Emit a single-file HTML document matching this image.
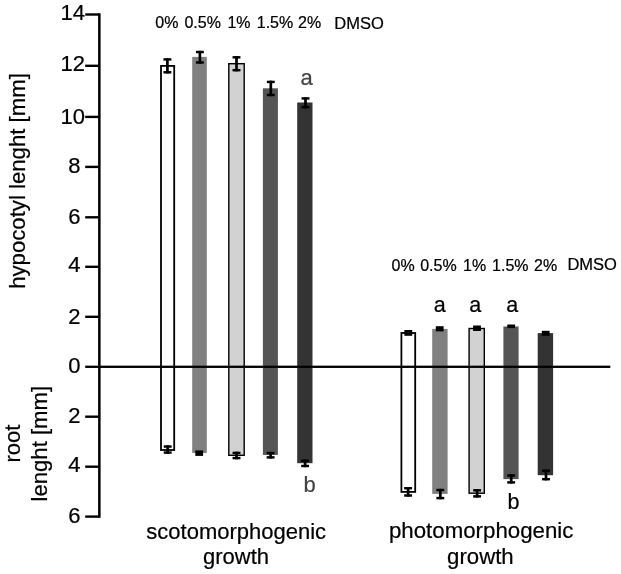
<!DOCTYPE html>
<html><head><meta charset="utf-8"><title>DMSO growth chart</title>
<style>
html,body{margin:0;padding:0;background:#fff;}
svg{display:block;font-family:"Liberation Sans",Arial,Helvetica,sans-serif;}
text{stroke:#000;stroke-width:0.22px;}
text.g{stroke:#444;}
</style></head><body>
<svg width="621" height="574" viewBox="0 0 621 574">
<rect width="621" height="574" fill="#fff"/>
<rect x="161.00" y="65.90" width="13.20" height="384.10" fill="#fff" stroke="#000" stroke-width="1.8"/>
<rect x="192.20" y="56.90" width="14.60" height="396.10" fill="#808080"/>
<rect x="228.80" y="63.70" width="15.40" height="391.60" fill="#d2d2d2" stroke="#000" stroke-width="1.4"/>
<rect x="262.90" y="88.30" width="15.00" height="366.60" fill="#555"/>
<rect x="297.20" y="102.50" width="15.30" height="360.70" fill="#333"/>
<rect x="401.40" y="333.00" width="13.80" height="158.90" fill="#fff" stroke="#000" stroke-width="1.8"/>
<rect x="432.20" y="328.90" width="15.40" height="165.00" fill="#808080"/>
<rect x="469.10" y="328.50" width="15.20" height="164.70" fill="#d2d2d2" stroke="#000" stroke-width="1.4"/>
<rect x="503.40" y="326.50" width="15.20" height="152.60" fill="#555"/>
<rect x="537.70" y="333.10" width="15.40" height="142.10" fill="#333"/>
<rect x="98.1" y="13.3" width="2.5" height="504.5" fill="#000"/>
<rect x="85.2" y="13.30" width="14" height="2.4" fill="#000"/>
<rect x="85.2" y="64.60" width="14" height="2.4" fill="#000"/>
<rect x="85.2" y="115.70" width="14" height="2.4" fill="#000"/>
<rect x="85.2" y="165.70" width="14" height="2.4" fill="#000"/>
<rect x="85.2" y="216.10" width="14" height="2.4" fill="#000"/>
<rect x="85.2" y="265.60" width="14" height="2.4" fill="#000"/>
<rect x="85.2" y="315.60" width="14" height="2.4" fill="#000"/>
<rect x="85.2" y="415.50" width="14" height="2.4" fill="#000"/>
<rect x="85.2" y="465.50" width="14" height="2.4" fill="#000"/>
<rect x="85.2" y="515.40" width="14" height="2.4" fill="#000"/>
<rect x="85.2" y="365.65" width="525.1" height="2.3" fill="#000"/>
<rect x="163.45" y="58.20" width="7.9" height="2.45" fill="#000"/><rect x="163.45" y="71.05" width="7.9" height="2.45" fill="#000"/><rect x="166.05" y="58.20" width="2.7" height="15.30" fill="#000"/>
<rect x="195.95" y="50.80" width="7.9" height="2.45" fill="#000"/><rect x="195.95" y="61.25" width="7.9" height="2.45" fill="#000"/><rect x="198.55" y="50.80" width="2.7" height="12.90" fill="#000"/>
<rect x="232.55" y="56.10" width="7.9" height="2.45" fill="#000"/><rect x="232.55" y="68.95" width="7.9" height="2.45" fill="#000"/><rect x="235.15" y="56.10" width="2.7" height="15.30" fill="#000"/>
<rect x="266.85" y="80.70" width="7.9" height="2.45" fill="#000"/><rect x="266.85" y="93.75" width="7.9" height="2.45" fill="#000"/><rect x="269.45" y="80.70" width="2.7" height="15.50" fill="#000"/>
<rect x="301.55" y="97.20" width="7.9" height="2.45" fill="#000"/><rect x="301.55" y="105.95" width="7.9" height="2.45" fill="#000"/><rect x="304.15" y="97.20" width="2.7" height="11.20" fill="#000"/>
<rect x="163.75" y="445.30" width="7.9" height="2.45" fill="#000"/><rect x="163.75" y="451.35" width="7.9" height="2.45" fill="#000"/><rect x="166.35" y="445.30" width="2.7" height="8.50" fill="#000"/>
<rect x="232.55" y="451.70" width="7.9" height="2.45" fill="#000"/><rect x="232.55" y="456.85" width="7.9" height="2.45" fill="#000"/><rect x="235.15" y="451.70" width="2.7" height="7.60" fill="#000"/>
<rect x="266.65" y="451.90" width="7.9" height="2.45" fill="#000"/><rect x="266.65" y="456.15" width="7.9" height="2.45" fill="#000"/><rect x="269.25" y="451.90" width="2.7" height="6.70" fill="#000"/>
<rect x="301.15" y="459.50" width="7.9" height="2.45" fill="#000"/><rect x="301.15" y="464.75" width="7.9" height="2.45" fill="#000"/><rect x="303.75" y="459.50" width="2.7" height="7.70" fill="#000"/>
<rect x="404.15" y="487.00" width="7.9" height="2.45" fill="#000"/><rect x="404.15" y="494.25" width="7.9" height="2.45" fill="#000"/><rect x="406.75" y="487.00" width="2.7" height="9.70" fill="#000"/>
<rect x="436.35" y="488.80" width="7.9" height="2.45" fill="#000"/><rect x="436.35" y="496.85" width="7.9" height="2.45" fill="#000"/><rect x="438.95" y="488.80" width="2.7" height="10.50" fill="#000"/>
<rect x="473.15" y="489.10" width="7.9" height="2.45" fill="#000"/><rect x="473.15" y="495.15" width="7.9" height="2.45" fill="#000"/><rect x="475.75" y="489.10" width="2.7" height="8.50" fill="#000"/>
<rect x="507.25" y="474.30" width="7.9" height="2.45" fill="#000"/><rect x="507.25" y="481.15" width="7.9" height="2.45" fill="#000"/><rect x="509.85" y="474.30" width="2.7" height="9.30" fill="#000"/>
<rect x="542.05" y="469.50" width="7.9" height="2.45" fill="#000"/><rect x="542.05" y="477.95" width="7.9" height="2.45" fill="#000"/><rect x="544.65" y="469.50" width="2.7" height="10.90" fill="#000"/>
<rect x="195.30" y="450.40" width="7.8" height="5.50" fill="#000"/>
<rect x="404.40" y="330.00" width="7.8" height="5.80" fill="#000"/>
<rect x="435.80" y="326.20" width="7.8" height="5.20" fill="#000"/>
<rect x="473.10" y="325.50" width="7.8" height="5.50" fill="#000"/>
<rect x="507.30" y="324.50" width="7.8" height="3.60" fill="#000"/>
<rect x="541.80" y="330.80" width="7.8" height="5.00" fill="#000"/>
<text x="85" y="19.5" font-size="22" text-anchor="end" fill="#000" >14</text>
<text x="85" y="71" font-size="22" text-anchor="end" fill="#000" >12</text>
<text x="85" y="124.3" font-size="22" text-anchor="end" fill="#000" >10</text>
<text x="80.5" y="172.8" font-size="22" text-anchor="end" fill="#000" >8</text>
<text x="80.5" y="223.6" font-size="22" text-anchor="end" fill="#000" >6</text>
<text x="80.5" y="272.2" font-size="22" text-anchor="end" fill="#000" >4</text>
<text x="80.5" y="323.5" font-size="22" text-anchor="end" fill="#000" >2</text>
<text x="80.5" y="372.8" font-size="22" text-anchor="end" fill="#000" >0</text>
<text x="80.5" y="422.8" font-size="22" text-anchor="end" fill="#000" >2</text>
<text x="80.5" y="472" font-size="22" text-anchor="end" fill="#000" >4</text>
<text x="80.5" y="522.6" font-size="22" text-anchor="end" fill="#000" >6</text>
<text x="166.8" y="27.8" font-size="16" text-anchor="middle" fill="#000" >0%</text>
<text x="202.7" y="27.8" font-size="16" text-anchor="middle" fill="#000" >0.5%</text>
<text x="239.0" y="27.8" font-size="16" text-anchor="middle" fill="#000" >1%</text>
<text x="275.0" y="27.8" font-size="16" text-anchor="middle" fill="#000" >1.5%</text>
<text x="309.65" y="27.8" font-size="16" text-anchor="middle" fill="#000" >2%</text>
<text x="403.05" y="270.8" font-size="16" text-anchor="middle" fill="#000" >0%</text>
<text x="438.45" y="270.8" font-size="16" text-anchor="middle" fill="#000" >0.5%</text>
<text x="474.55" y="270.8" font-size="16" text-anchor="middle" fill="#000" >1%</text>
<text x="510.3" y="270.8" font-size="16" text-anchor="middle" fill="#000" >1.5%</text>
<text x="545.65" y="270.8" font-size="16" text-anchor="middle" fill="#000" >2%</text>
<text x="359.1" y="28.8" font-size="16" text-anchor="middle" fill="#000" textLength="49.5" lengthAdjust="spacingAndGlyphs">DMSO</text>
<text x="592.2" y="269.6" font-size="16" text-anchor="middle" fill="#000" textLength="49.5" lengthAdjust="spacingAndGlyphs">DMSO</text>
<text x="306.5" y="85" font-size="22" text-anchor="middle" fill="#444" class="g">a</text>
<text x="309.5" y="492.3" font-size="22" text-anchor="middle" fill="#444" class="g">b</text>
<text x="439.8" y="312" font-size="21.5" text-anchor="middle" fill="#000" >a</text>
<text x="475.3" y="312" font-size="21.5" text-anchor="middle" fill="#000" >a</text>
<text x="512.2" y="312" font-size="21.5" text-anchor="middle" fill="#000" >a</text>
<text x="513.5" y="508.6" font-size="21.5" text-anchor="middle" fill="#000" >b</text>
<text x="236.2" y="538.6" font-size="22" text-anchor="middle" fill="#000" >scotomorphogenic</text>
<text x="236" y="564.1" font-size="22" text-anchor="middle" fill="#000" >growth</text>
<text x="481.2" y="538.3" font-size="22.28" text-anchor="middle" fill="#000" >photomorphogenic</text>
<text x="480.4" y="563.9" font-size="22.2" text-anchor="middle" fill="#000" >growth</text>
<text transform="translate(25.1,181) rotate(-90)" font-size="22.18" text-anchor="middle">hypocotyl lenght [mm]</text>
<text transform="translate(20.1,443.5) rotate(-90)" font-size="22" text-anchor="middle">root</text>
<text transform="translate(46.5,443.7) rotate(-90)" font-size="22.1" text-anchor="middle">lenght [mm]</text>
</svg>
</body></html>
